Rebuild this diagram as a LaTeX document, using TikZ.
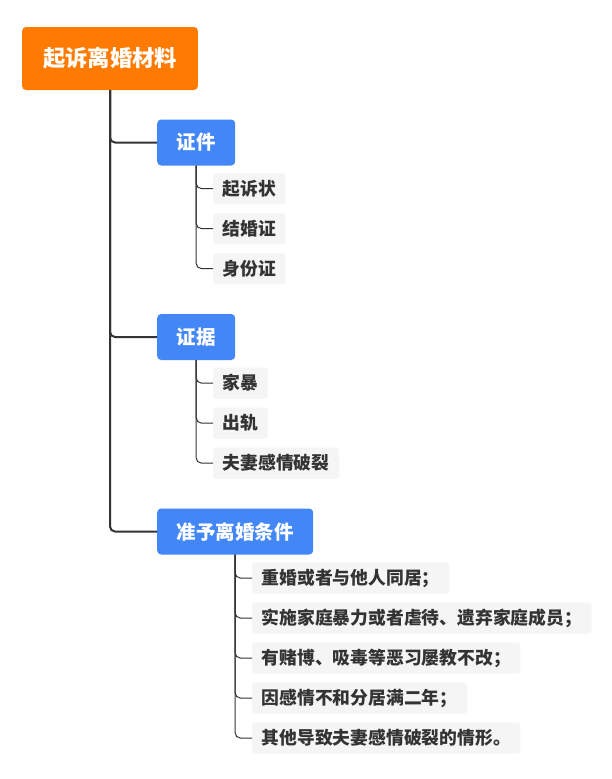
\documentclass[tikz,border=0pt]{standalone}
\usepackage{fontspec}
\usepackage{xcolor}
\usepackage{tikz}
\usetikzlibrary{positioning}
\newfontfamily\cjk{Noto Sans CJK SC}
\definecolor{rootorange}{HTML}{FF7A00}
\definecolor{topicblue}{HTML}{4287F5}
\definecolor{leafgray}{HTML}{F5F5F5}
\definecolor{linegray}{HTML}{333333}

\begin{document}
\begin{tikzpicture}[x=1pt, y=-1pt,
    rootbox/.style={fill=rootorange, text=white, rounded corners=4pt, inner xsep=21pt, minimum height=63pt, font=\cjk\bfseries\fontsize{22.3}{22.3}\selectfont},
    topicbox/.style={fill=topicblue, text=white, rounded corners=4pt, inner xsep=19.5pt, minimum height=46pt, anchor=west, font=\cjk\bfseries\fontsize{19.5}{19.5}\selectfont},
    leafbox/.style={fill=leafgray, text=linegray, rounded corners=3pt, inner xsep=9.5pt, minimum height=31pt, anchor=west, font=\cjk\bfseries\fontsize{17.8}{17.8}\selectfont},
    mainline/.style={draw=linegray, line width=2pt, rounded corners=5pt},
    leafline/.style={draw=linegray, line width=1pt, rounded corners=5pt}
]
\useasboundingbox[fill=white] (0,0) rectangle (612,779);

\node[rootbox] (root) at (110,58.5) {起诉离婚材料};

% first level
\node[topicbox] (docs) at (157,142.5) {证件};
\node[topicbox] (proof) at (157,337) {证据};
\node[topicbox] (cond) at (157,531.5) {准予离婚条件};

% leaves
\node[leafbox] (d1) at (213,188.5) {起诉状};
\node[leafbox] (d2) at (213,228.5) {结婚证};
\node[leafbox] (d3) at (213,268.5) {身份证};

\node[leafbox] (p1) at (213,383) {家暴};
\node[leafbox] (p2) at (213,423) {出轨};
\node[leafbox] (p3) at (213,463) {夫妻感情破裂};

\node[leafbox] (c1) at (252,578) {重婚或者与他人同居；};
\node[leafbox] (c2) at (252,618) {实施家庭暴力或者虐待、遗弃家庭成员；};
\node[leafbox] (c3) at (252,658) {有赌博、吸毒等恶习屡教不改；};
\node[leafbox] (c4) at (252,698) {因感情不和分居满二年；};
\node[leafbox] (c5) at (252,738) {其他导致夫妻感情破裂的情形。};

\foreach \t in {docs, proof, cond}
    \draw[mainline] (root.south) |- (\t.west);
\foreach \l in {d1, d2, d3}
    \draw[leafline] (docs.south) |- (\l.west);
\foreach \l in {p1, p2, p3}
    \draw[leafline] (proof.south) |- (\l.west);
\foreach \l in {c1, c2, c3, c4, c5}
    \draw[leafline] (cond.south) |- (\l.west);
\end{tikzpicture}
\end{document}
